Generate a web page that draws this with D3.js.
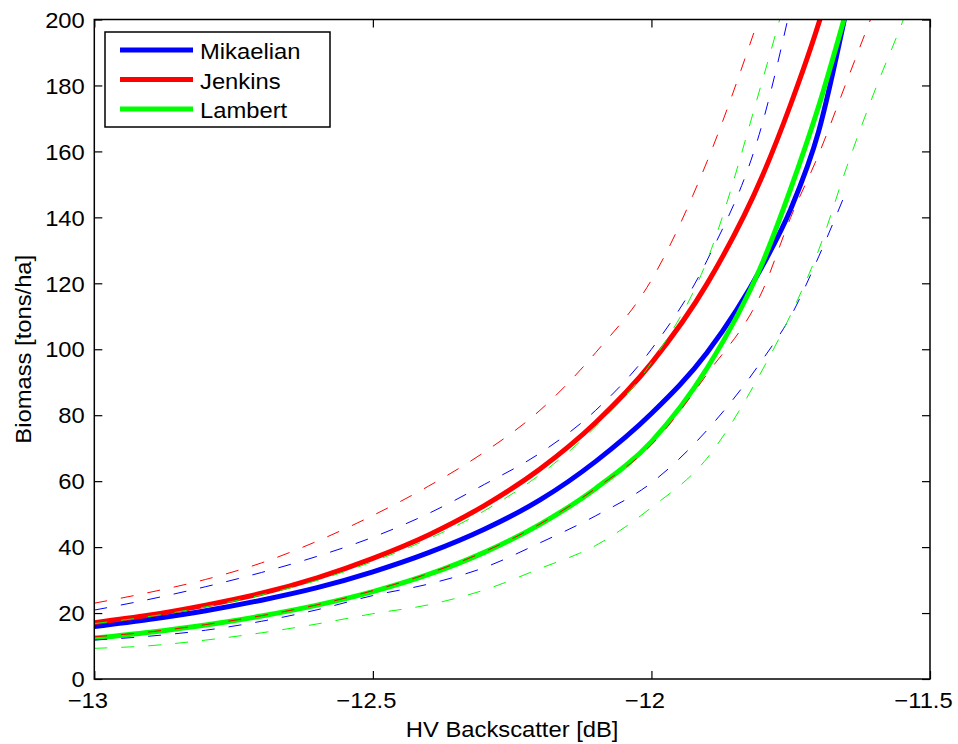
<!DOCTYPE html>
<html>
<head>
<meta charset="utf-8">
<script src="https://d3js.org/d3.v7.min.js"></script>
<style>
  body { margin: 0; background: #fff; }
  svg { display: block; font-family: "Liberation Sans", Arial, sans-serif; }
</style>
</head>
<body>
<div id="chart"></div>
<script>
// HV backscatter grid (dB)
const hv = [-13, -12.9, -12.8, -12.7, -12.6, -12.5, -12.4, -12.3, -12.2, -12.1, -12.0,
            -11.9, -11.8, -11.75, -11.7, -11.65, -11.6, -11.55, -11.5];

// biomass (tons/ha); null = no data
const mikaelian   = [15.9, 18.1, 20.7, 23.9, 27.7, 32.5, 38.3, 45.4, 54.3, 66.0, 80.5, 99.0, 125.5, 142.5, 166, 203, null, null, null];
const mikaelianHi = [20.9, 24.2, 28.0, 32.3, 37.2, 43.0, 50.2, 59.0, 68.5, 81.5, 100, 127, 169, 204, null, null, null, null, null];
const mikaelianLo = [11.8, 13.0, 14.8, 17.5, 21.0, 25.3, 28.8, 33.8, 41.3, 49.5, 59.5, 75.5, 97, 110, 128, 148, null, null, null];

const jenkins   = [17.1, 19.4, 22.4, 26.0, 30.7, 36.6, 43.7, 52.6, 63.7, 77.8, 95.8, 119.9, 152.9, 174.3, 198.7, 228, null, null, null];
const jenkinsHi = [23.0, 26.3, 30.2, 35.2, 41.8, 49.6, 58.5, 68.8, 81.5, 99, 121, 157, 204, null, null, null, null, null, null];
const jenkinsLo = [12.8, 14.3, 16.5, 19.2, 22.5, 26.8, 32.0, 38.6, 47.0, 57.8, 71.0, 92.5, 118, 140, 159, 181, 203, null, null];

const lambert   = [12.4, 14.2, 16.4, 19.1, 22.4, 26.5, 31.7, 38.4, 46.9, 57.8, 72.0, 94.3, 126.5, 148.7, 173.6, 202.7, null, null, null];
const lambertHi = [16.8, 19.0, 21.9, 25.5, 29.9, 35.6, 42.5, 51.0, 62.0, 76.5, 96.0, 127, 182, 212, null, null, null, null, null];
const lambertLo = [9.3, 10.1, 11.8, 14.0, 16.7, 19.8, 22.5, 27.0, 33.5, 40.5, 52, 67, 94, 110.5, 130, 155, 178, 199, 222];

const xTicks = [-13, -12.5, -12, -11.5];
const yTicks = [0, 20, 40, 60, 80, 100, 120, 140, 160, 180, 200];

const models = ['Mikaelian', 'Jenkins', 'Lambert'];
const colors = { Mikaelian: '#0000ff', Jenkins: '#ff0000', Lambert: '#00ff00' };

const W = 958, H = 744;
const margin = { top: 19.5, right: 28, bottom: 65, left: 94.3 };
const innerW = W - margin.left - margin.right;
const innerH = H - margin.top - margin.bottom;

const svg = d3.select('#chart').append('svg')
    .attr('width', W)
    .attr('height', H);

const g = svg.append('g')
    .attr('transform', `translate(${margin.left},${margin.top})`);

const x = d3.scaleLinear().domain([-13, -11.5]).range([0, innerW]);
const y = d3.scaleLinear().domain([0, 200]).range([innerH, 0]);

g.append('clipPath').attr('id', 'plot-clip')
  .append('rect').attr('width', innerW).attr('height', innerH);

const line = d3.line()
    .defined(d => d[1] != null)
    .x(d => x(d[0]))
    .y(d => y(d[1]))
    .curve(d3.curveMonotoneX);

const pts = arr => hv.map((h, i) => [h, arr[i]]);

const plot = g.append('g').attr('clip-path', 'url(#plot-clip)');

// thick fitted curves first
const solids = [['Mikaelian', mikaelian], ['Jenkins', jenkins], ['Lambert', lambert]];
solids.forEach(([name, arr]) => {
    plot.append('path')
        .attr('d', line(pts(arr)))
        .attr('fill', 'none')
        .attr('stroke', colors[name])
        .attr('stroke-width', 5);
});

// dashed bounds on top
const bounds = [
    ['Mikaelian', mikaelianHi], ['Mikaelian', mikaelianLo],
    ['Jenkins', jenkinsHi], ['Jenkins', jenkinsLo],
    ['Lambert', lambertHi], ['Lambert', lambertLo]
];
bounds.forEach(([name, arr]) => {
    plot.append('path')
        .attr('d', line(pts(arr)))
        .attr('fill', 'none')
        .attr('stroke', colors[name])
        .attr('stroke-width', 1)
        .attr('stroke-dasharray', '13,14');
});

// axes, ticks pointing inward on all four sides
const fmt = d3.format('~g');
const tickLen = 8;

const xAxis = g.append('g')
    .attr('transform', `translate(0,${innerH})`)
    .call(d3.axisBottom(x).tickValues(xTicks).tickSize(-tickLen).tickFormat(fmt));
xAxis.selectAll('text')
    .attr('y', 29).attr('dy', null).attr('x', -7);

g.append('g')
    .call(d3.axisTop(x).tickValues(xTicks).tickSize(-tickLen).tickFormat(''));

const yAxis = g.append('g')
    .call(d3.axisLeft(y).tickValues(yTicks).tickSize(-tickLen).tickFormat(fmt));
yAxis.selectAll('text')
    .attr('x', -9.5).attr('dy', '0.35em');

g.append('g')
    .attr('transform', `translate(${innerW},0)`)
    .call(d3.axisRight(y).tickValues(yTicks).tickSize(-tickLen).tickFormat(''));

g.selectAll('.domain').remove();
g.selectAll('.tick line').attr('stroke', '#000').attr('stroke-width', 1.2);
g.selectAll('.tick text')
    .attr('fill', '#000')
    .attr('font-size', '22px')
    .attr('font-family', '"Liberation Sans", Arial, sans-serif');

g.append('rect')
    .attr('width', innerW)
    .attr('height', innerH)
    .attr('fill', 'none')
    .attr('stroke', '#000')
    .attr('stroke-width', 1.5);

svg.append('text')
    .attr('x', margin.left + innerW / 2)
    .attr('y', 736.5)
    .attr('text-anchor', 'middle')
    .attr('font-size', '22px')
    .text('HV Backscatter [dB]');

svg.append('text')
    .attr('transform', `translate(31,${margin.top + innerH / 2}) rotate(-90)`)
    .attr('text-anchor', 'middle')
    .attr('font-size', '22px')
    .text('Biomass [tons/ha]');

// legend
const legend = svg.append('g').attr('transform', 'translate(105,32)');

legend.append('rect')
    .attr('width', 225)
    .attr('height', 95)
    .attr('fill', '#fff')
    .attr('stroke', '#000')
    .attr('stroke-width', 1.5);

const items = legend.selectAll('.legend-item')
    .data(models)
    .enter()
    .append('g')
    .attr('class', 'legend-item')
    .attr('transform', (d, i) => `translate(0,${18 + i * 29.5})`);

items.append('line')
    .attr('x1', 15).attr('x2', 88)
    .attr('y1', 0).attr('y2', 0)
    .attr('stroke', d => colors[d])
    .attr('stroke-width', 5);

items.append('text')
    .attr('x', 95)
    .attr('y', 9)
    .attr('font-size', '22px')
    .text(d => d);

// the original font runs a little wider than Liberation Sans
svg.selectAll('text').each(function () {
    const len = this.getComputedTextLength();
    if (len > 0) {
        d3.select(this)
            .attr('textLength', len * 1.08)
            .attr('lengthAdjust', 'spacingAndGlyphs');
    }
});
</script>
</body>
</html>
